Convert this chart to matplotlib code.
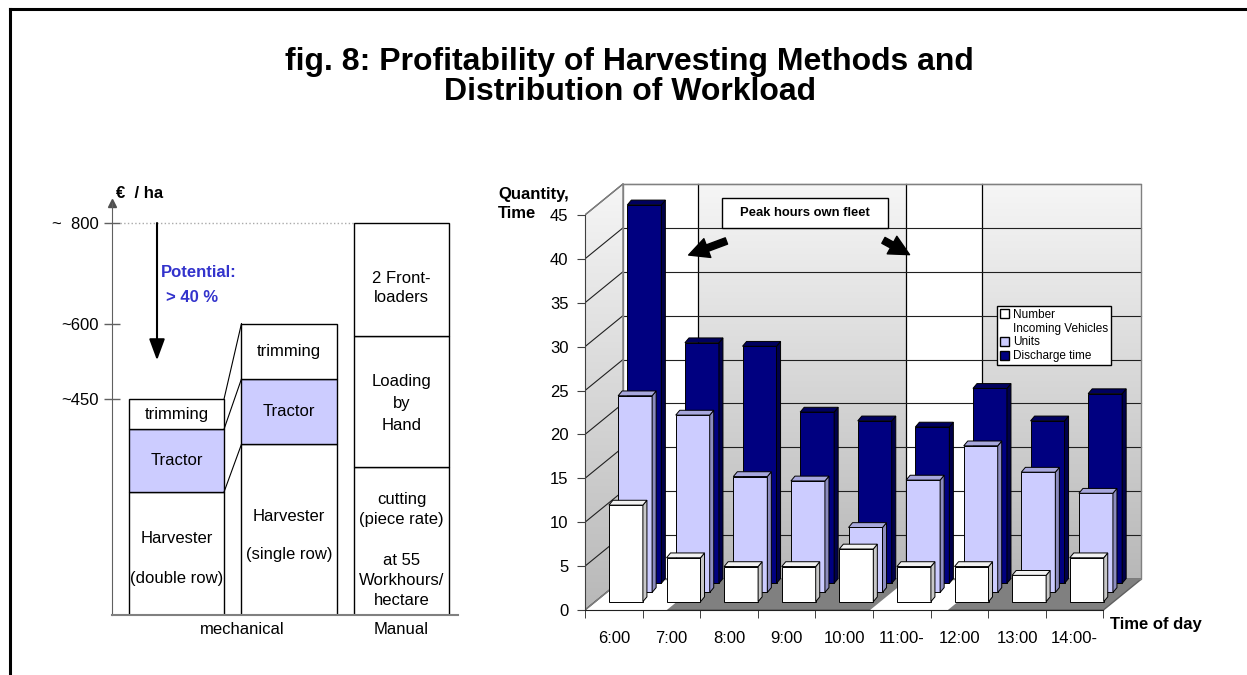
import matplotlib.pyplot as plt
from matplotlib.patches import Polygon, Rectangle, Patch, FancyArrowPatch
from matplotlib.lines import Line2D
from matplotlib.colors import LinearSegmentedColormap
import numpy as np

plt.rcParams['font.family'] = ['Liberation Sans', 'DejaVu Sans']

W, H = 1247, 675

# left chart: cost per hectare (EUR / ha), stacked segments
harvester = [265, 360]          # double row, single row
tractor = [125, 130]
trimming = [60, 110]
manual_parts = [315, 260, 225]  # cutting, loading by hand, 2 front-loaders
cost_ticks = [450, 600, 800]
cost_tick_labels = ['~450', '~600', '~  800']

# right chart: workload per hour
hours = ['6:00', '7:00', '8:00', '9:00', '10:00', '11:00-', '12:00', '13:00', '14:00-']
vehicles = [11, 5, 4, 4, 6, 4, 4, 3, 5]
units = [22.4, 20.2, 13.2, 12.7, 7.4, 12.8, 16.7, 13.7, 11.3]
discharge = [43.1, 27.4, 27.0, 19.5, 18.5, 17.8, 22.2, 18.5, 21.6]
series_names = ['Number', 'Incoming Vehicles', 'Units', 'Discharge time']


def fx(px):
    return px / W


def fy(py):
    return 1 - py / H


fig = plt.figure(figsize=(W / 100, H / 100), dpi=100)

# frame lines
fig.add_artist(Line2D([fx(10), 1], [fy(9), fy(9)], color='black', lw=2.2))
fig.add_artist(Line2D([fx(10), fx(10)], [fy(9), 0], color='black', lw=2.2))

fig.text(fx(629), fy(62), 'fig. 8: Profitability of Harvesting Methods and',
         ha='center', va='center', fontsize=23, fontweight='bold')
fig.text(fx(630), fy(92), 'Distribution of Workload',
         ha='center', va='center', fontsize=23, fontweight='bold')

# ---------------- left chart ----------------
ax1 = fig.add_axes([fx(112), fy(615), (458 - 112) / W, (615 - 203) / H])
bw = 0.845
xs = np.arange(3)
edge = dict(edgecolor='black', linewidth=1)

top_h = harvester
top_t = [h + t for h, t in zip(harvester, tractor)]
top_all = [a + b for a, b in zip(top_t, trimming)]
ax1.bar(xs[:2], harvester, width=bw, color='white', **edge)
ax1.bar(xs[:2], tractor, bottom=top_h, width=bw, color='#ccccff', **edge)
ax1.bar(xs[:2], trimming, bottom=top_t, width=bw, color='white', **edge)
bottom = 0
for part in manual_parts:
    ax1.bar(2, part, bottom=bottom, width=bw, color='white', **edge)
    bottom += part

for a, b in zip([top_h[0], top_t[0], top_all[0]], [top_h[1], top_t[1], top_all[1]]):
    ax1.plot([bw / 2, 1 - bw / 2], [a, b], color='black', lw=0.8)

ax1.plot([-0.5, 2 - bw / 2], [sum(manual_parts)] * 2, ls=':', color='#aaaaaa', lw=1)

ax1.set_xlim(-0.573, 2.502)
ax1.set_ylim(20.6, 839.8)

# labels inside bars
def seg_label(x, lo, hi, text, dy=0, ls=1.2):
    ax1.text(x, (lo + hi) / 2 + dy, text, ha='center', va='center', fontsize=12,
             linespacing=ls)

seg_label(0, 20.6, top_h[0], 'Harvester\n\n(double row)', dy=-10, ls=1.42)
seg_label(0, top_h[0], top_t[0], 'Tractor')
seg_label(0, top_t[0], top_all[0], 'trimming')
seg_label(1, 20.6, top_h[1], 'Harvester\n\n(single row)', dy=-12, ls=1.32)
seg_label(1, top_h[1], top_t[1], 'Tractor')
seg_label(1, top_t[1], top_all[1], 'trimming')
m1 = manual_parts[0]
m2 = m1 + manual_parts[1]
m3 = m2 + manual_parts[2]
seg_label(2, 20.6, m1, 'cutting\n(piece rate)\n\nat 55\nWorkhours/\nhectare', dy=-18, ls=1.42)
seg_label(2, m1, m2, 'Loading\nby\nHand', dy=-4, ls=1.6)
seg_label(2, m2, m3, '2 Front-\nloaders', dy=-16, ls=1.35)

ax1.annotate('', xy=(-0.173, 527), xytext=(-0.173, 800),
             arrowprops=dict(arrowstyle='-|>,head_length=0.65,head_width=0.24',
                             color='black', lw=1.5, mutation_scale=20,
                             shrinkA=0, shrinkB=0))
ax1.text(-0.138, 702, 'Potential:', color='#3333cc', fontweight='bold', fontsize=12,
         va='center', ha='left')
ax1.text(-0.093, 651, '> 40 %', color='#3333cc', fontweight='bold', fontsize=12,
         va='center', ha='left')

for s in ['top', 'right']:
    ax1.spines[s].set_visible(False)
ax1.spines['left'].set_color('#606060')
ax1.spines['bottom'].set_color('#808080')
ax1.spines['bottom'].set_linewidth(1.5)
ax1.plot(-0.573, 839.8, marker='^', ms=6, color='#505050', clip_on=False)
ax1.set_yticks(cost_ticks, cost_tick_labels)
ax1.tick_params(axis='y', direction='inout', length=11.5, width=1, color='#606060',
                pad=4, labelsize=12)
ax1.set_xticks([0.582, 2], ['mechanical', 'Manual'])
ax1.tick_params(axis='x', length=0, pad=5, labelsize=12)
fig.text(fx(116), fy(193), '€  / ha', fontweight='bold', fontsize=12, va='center')

# ---------------- right chart (pseudo 3D) ----------------
ax2 = fig.add_axes([fx(585), fy(618.8), 564.5 / W, 439 / H])
DX, DY = 0.66, 3.53      # depth of the box in data units
YTOP = 45
n = len(hours)
x0, x1 = -0.5, n - 0.5

grad = np.linspace(0, 1, 256).reshape(-1, 1)
wall_cmap = LinearSegmentedColormap.from_list('wall', ['#b8b8b8', '#f6f6f6'])
ax2.imshow(grad, extent=(x0 + DX, x1 + DX, DY, YTOP + DY), origin='lower',
           cmap=wall_cmap, aspect='auto', zorder=0)
side = Polygon([(x0, 0), (x0, YTOP), (x0 + DX, YTOP + DY), (x0 + DX, DY)],
               closed=True, facecolor='none', edgecolor='#808080', lw=1, zorder=0.6)
ax2.add_patch(side)
im = ax2.imshow(grad, extent=(x0, x0 + DX, 0, YTOP + DY), origin='lower',
                cmap=wall_cmap, aspect='auto', zorder=0)
im.set_clip_path(side)

# white bands on the wall and floor
for a, b in [(0.16, 1.46), (5.07, 6.39)]:
    ax2.add_patch(Rectangle((a, DY), b - a, YTOP, facecolor='white', edgecolor='none',
                            zorder=0.2))
for xv in [1.46, 5.07, 6.39]:
    ax2.plot([xv, xv], [DY, YTOP + DY], color='black', lw=0.9, zorder=0.5)

ax2.add_patch(Polygon([(x0, 0), (x1, 0), (x1 + DX, DY), (x0 + DX, DY)], closed=True,
                      facecolor='#808080', edgecolor='#606060', lw=1, zorder=0.3))
for a, b in [(-0.5, 0.92), (4.45, 5.8)]:
    ax2.add_patch(Polygon([(a, 0), (b, 0), (b + DX, DY), (a + DX, DY)], closed=True,
                          facecolor='white', edgecolor='none', zorder=0.35))

ax2.add_patch(Rectangle((x0 + DX, DY), n, YTOP, fill=False, edgecolor='#808080', lw=1,
                        zorder=0.6))
for v in range(0, YTOP + 1, 5):
    ax2.plot([x0, x0 + DX], [v, v + DY], color='#202020', lw=0.8, zorder=0.5)
    if v > 0:
        ax2.plot([x0 + DX, x1 + DX], [v + DY, v + DY], color='#202020', lw=0.8, zorder=0.5)

# bars, back row first
BW, BDX, BDY = 0.59, 0.07, 0.55
rows = [(discharge, 0.53, 3.04, '#000080', '#00004a', '#00005e'),
        (units, 0.37, 2.0, '#ccccff', '#8c8cbf', '#a8a8dd'),
        (vehicles, 0.21, 0.95, 'white', '#c8c8c8', '#f2f2f2')]
for k, (vals, ox, oy, front, sidec, topc) in enumerate(rows):
    z = 2 + k
    pos = np.arange(n) + ox
    ax2.bar(pos, vals, bottom=oy, width=BW, color=front, edgecolor='black', lw=0.7,
            zorder=z)
    for p, v in zip(pos, vals):
        l, r, t = p - BW / 2, p + BW / 2, oy + v
        ax2.add_patch(Polygon([(r, oy), (r + BDX, oy + BDY), (r + BDX, t + BDY), (r, t)],
                              closed=True, facecolor=sidec, edgecolor='black', lw=0.7,
                              zorder=z))
        ax2.add_patch(Polygon([(l, t), (l + BDX, t + BDY), (r + BDX, t + BDY), (r, t)],
                              closed=True, facecolor=topc, edgecolor='black', lw=0.7,
                              zorder=z))

ax2.set_xlim(-0.5, 9.3)
ax2.set_ylim(-1, 49)
for s in ['top', 'right']:
    ax2.spines[s].set_visible(False)
ax2.spines['left'].set_bounds(0, YTOP)
ax2.spines['left'].set_color('#404040')
ax2.spines['bottom'].set_position(('data', 0))
ax2.spines['bottom'].set_bounds(x0, x1)
ax2.spines['bottom'].set_color('#202020')
ax2.set_yticks(range(0, YTOP + 1, 5))
ax2.tick_params(axis='y', direction='out', length=6, pad=6, labelsize=12, color='#404040')
ax2.set_xticks(range(n), hours)
ax2.set_xticks(np.arange(x0, x1 + 0.1, 1), minor=True)
ax2.tick_params(axis='x', which='major', length=0, pad=15, labelsize=12)
ax2.tick_params(axis='x', which='minor', length=6, direction='out', color='#202020')

fig.text(fx(498), fy(195), 'Quantity,', fontweight='bold', fontsize=12,
         va='center', ha='left')
fig.text(fx(498), fy(214), 'Time', fontweight='bold', fontsize=12,
         va='center', ha='left')
fig.text(fx(1110), fy(624), 'Time of day', fontweight='bold', fontsize=12,
         va='center', ha='left')

handles = [Patch(facecolor='white', edgecolor='black'),
           Patch(facecolor='none', edgecolor='none'),
           Patch(facecolor='#ccccff', edgecolor='black'),
           Patch(facecolor='#000080', edgecolor='black')]
leg = ax2.legend(handles, series_names, loc='upper left',
                 bbox_to_anchor=(fx(997), fy(306)), bbox_transform=fig.transFigure,
                 fontsize=8.5, fancybox=False, edgecolor='black', framealpha=1,
                 borderpad=0.25, handlelength=0.8, handleheight=0.8, handletextpad=0.3,
                 labelspacing=0.15, borderaxespad=0)
leg.get_frame().set_linewidth(1)
leg.set_zorder(10)

# peak hours annotation
fig.add_artist(Rectangle((fx(722), fy(228.3)), (888 - 722) / W, 30 / H,
                         transform=fig.transFigure, facecolor='white',
                         edgecolor='black', lw=1))
fig.text(fx(805), fy(213), 'Peak hours own fleet', ha='center', va='center',
         fontweight='bold', fontsize=9.4)
for a, b in [((729, 240), (686, 256)), ((881, 239), (912, 256))]:
    fig.add_artist(FancyArrowPatch((fx(a[0]), fy(a[1])), (fx(b[0]), fy(b[1])),
                                   transform=fig.transFigure,
                                   arrowstyle='simple,head_length=0.9,head_width=0.9,tail_width=0.3',
                                   mutation_scale=16, color='black'))

fig.savefig('out.png', dpi=100)
